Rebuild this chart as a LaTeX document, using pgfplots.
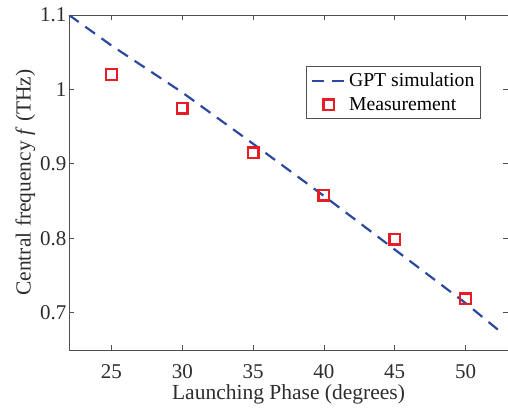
\documentclass[border=0pt]{standalone}
\usepackage{fontspec}
\setmainfont{Liberation Serif}
\usepackage{pgfplots}
\pgfplotsset{compat=1.18}
\definecolor{gptblue}{RGB}{44,72,160}
\definecolor{measred}{RGB}{232,28,36}
\definecolor{txtgray}{RGB}{45,45,45}
\definecolor{axgray}{RGB}{80,80,80}
\pgfplotsset{
  linelegend/.style={legend image code/.code={\draw[#1] (0pt,0pt) -- (34pt,0pt);}},
  marklegend/.style={legend image code/.code={\draw[#1] plot coordinates {(17pt,0pt)};}},
}

\begin{document}
\begin{tikzpicture}
\begin{axis}[
  name=ax,
  scale only axis,
  width=439pt, height=335pt,
  xmin=22, xmax=53,
  ymin=0.65, ymax=1.1,
  xtick={25,30,35,40,45,50},
  ytick={0.7,0.8,0.9,1,1.1},
  yticklabels={0.7,0.8,0.9,1,1.1},
  tick align=inside,
  major tick length=5pt,
  axis line style={axgray, line width=0.8pt},
  tick style={axgray, line width=0.8pt},
  ticklabel style={font=\fontsize{21}{23}\selectfont, text=txtgray},
  yticklabel style={xshift=1pt},
  xticklabel style={yshift=-11pt},
  /pgf/number format/assume math mode=true,
  xlabel={Launching Phase (degrees)},
  ylabel={Central frequency \textit{f} (THz)},
  label style={font=\fontsize{21.5}{23}\selectfont, text=txtgray},
  xlabel style={yshift=1pt},
  ylabel style={yshift=-2pt},
  legend style={
    at={(0.938,0.848)}, anchor=north east,
    font=\fontsize{19.7}{22}\selectfont,
    draw=axgray, line width=0.8pt, text=black,
    inner xsep=4pt, inner ysep=5pt,
    row sep=5pt,
  },
  legend cell align=left,
]
\addplot[gptblue, line width=2.2pt, dash pattern=on 12pt off 8pt, linelegend] coordinates {
  (22,1.100) (25,1.059) (30,0.996) (35,0.927) (40,0.857) (45,0.785) (50,0.713) (52.5,0.674)
};
\addlegendentry{GPT simulation}
\addplot[only marks, mark=square, mark size=5.3pt, mark options={measred, line width=2.4pt}, marklegend] coordinates {
  (25,1.020) (30,0.975) (35,0.915) (40,0.858) (45,0.799) (50,0.719)
};
\addlegendentry{Measurement}
\end{axis}
\pgfresetboundingbox
\path[use as bounding box] ([xshift=-69pt,yshift=-59pt]ax.south west) rectangle ([yshift=15pt]ax.north east);
\end{tikzpicture}
\end{document}
